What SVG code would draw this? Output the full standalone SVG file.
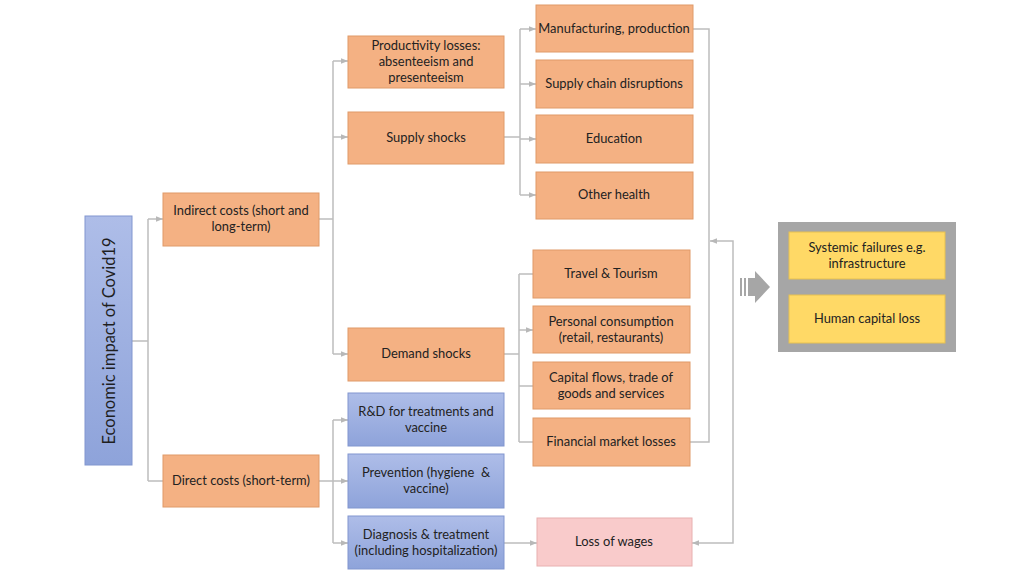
<svg xmlns="http://www.w3.org/2000/svg" width="1024" height="576" viewBox="0 0 1024 576">
<defs>
<linearGradient id="gBlue" x1="0" y1="0" x2="0" y2="1">
<stop offset="0" stop-color="#aebde8"/>
<stop offset="1" stop-color="#8ea3da"/>
</linearGradient>
<marker id="ah" viewBox="0 0 10 10" refX="10" refY="5" markerWidth="7" markerHeight="7" markerUnits="userSpaceOnUse" orient="auto-start-reverse">
<path d="M0,1 L10,5 L0,9 z" fill="#b8b8b8"/>
</marker>
<style>
.o{fill:#f4b183;stroke:#e09a68;stroke-width:1}
.b{fill:url(#gBlue);stroke:#8196cf;stroke-width:1}
.p{fill:#f9cbcb;stroke:#e8b0b0;stroke-width:1}
.y{fill:#ffd966;stroke:#e6c050;stroke-width:1}
.t{font-family:Lato,"Liberation Sans",sans-serif;font-size:12.9px;fill:#222222;text-anchor:middle}
.c{fill:none;stroke:#bdbdbd;stroke-width:1.5}
.ca{fill:none;stroke:#bdbdbd;stroke-width:1.5;marker-end:url(#ah)}
</style>
</defs>
<rect width="1024" height="576" fill="#ffffff"/>

<g id="connectors">
<path class="c" d="M132,341 H148"/>
<path class="c" d="M148,219 V481"/>
<path class="ca" d="M148,219 H163"/>
<path class="c" d="M148,481 H163"/>
<path class="c" d="M319,219 H333"/>
<path class="c" d="M333,61 V354"/>
<path class="ca" d="M333,61 H348"/>
<path class="ca" d="M333,137 H348"/>
<path class="ca" d="M333,354 H348"/>
<path class="c" d="M319,481 H333"/>
<path class="c" d="M333,420 V543"/>
<path class="ca" d="M333,420 H348"/>
<path class="ca" d="M333,481 H348"/>
<path class="ca" d="M333,543 H348"/>
<path class="c" d="M504,137 H520"/>
<path class="c" d="M520,29 V195"/>
<path class="ca" d="M520,29 H536"/>
<path class="ca" d="M520,84 H536"/>
<path class="ca" d="M520,139 H536"/>
<path class="ca" d="M520,195 H536"/>
<path class="c" d="M504,354 H519"/>
<path class="c" d="M519,274 V442"/>
<path class="c" d="M519,274 H533"/>
<path class="ca" d="M519,330 H533"/>
<path class="c" d="M519,386 H533"/>
<path class="c" d="M519,442 H533"/>
<path class="c" d="M693,29 H709 V442 H690"/>
<path class="ca" d="M504,543 H537"/>
<path class="c" d="M710,241 H733 V543 H692" style="marker-start:url(#ah);marker-end:url(#ah)"/>
</g>

<g id="n-main">
<rect x="85" y="216" width="47" height="249" fill="url(#gBlue)" stroke="#8196cf"/>
<text transform="translate(115,341) rotate(-90)" style="font-family:Lato,'Liberation Sans',sans-serif;font-size:16.5px;fill:#1f1f1f;text-anchor:middle">Economic impact of Covid19</text>
</g>
<g id="n-indirect"><rect class="o" x="163" y="193" width="156" height="53"/><text class="t" x="241" y="215">Indirect costs (short and</text><text class="t" x="241" y="231">long-term)</text></g>
<g id="n-direct"><rect class="o" x="163" y="455" width="156" height="52"/><text class="t" x="241" y="485">Direct costs (short-term)</text></g>

<g id="n-productivity"><rect class="o" x="348" y="36" width="156" height="52"/><text class="t" x="426" y="50">Productivity losses:</text><text class="t" x="426" y="66">absenteeism and</text><text class="t" x="426" y="82">presenteeism</text></g>
<g id="n-supply"><rect class="o" x="348" y="112" width="156" height="52"/><text class="t" x="426" y="142">Supply shocks</text></g>
<g id="n-demand"><rect class="o" x="348" y="328" width="156" height="53"/><text class="t" x="426" y="358">Demand shocks</text></g>
<g id="n-rd"><rect class="b" x="348" y="393" width="156" height="53"/><text class="t" x="426" y="416">R&amp;D for treatments and</text><text class="t" x="426" y="432">vaccine</text></g>
<g id="n-prevention"><rect class="b" x="348" y="454" width="156" height="54"/><text class="t" x="426" y="477">Prevention (hygiene&#160; &amp;</text><text class="t" x="426" y="493">vaccine)</text></g>
<g id="n-diagnosis"><rect class="b" x="348" y="516" width="156" height="53"/><text class="t" x="426" y="539">Diagnosis &amp; treatment</text><text class="t" x="426" y="555">(including hospitalization)</text></g>

<g id="n-manufacturing"><rect class="o" x="536" y="5" width="157" height="47"/><text class="t" x="614" y="33">Manufacturing, production</text></g>
<g id="n-supplychain"><rect class="o" x="536" y="60" width="157" height="48"/><text class="t" x="614" y="88">Supply chain disruptions</text></g>
<g id="n-education"><rect class="o" x="536" y="115" width="157" height="48"/><text class="t" x="614" y="143">Education</text></g>
<g id="n-otherhealth"><rect class="o" x="536" y="172" width="157" height="47"/><text class="t" x="614" y="199">Other health</text></g>

<g id="n-travel"><rect class="o" x="533" y="250" width="157" height="48"/><text class="t" x="611" y="278">Travel &amp; Tourism</text></g>
<g id="n-personal"><rect class="o" x="533" y="306" width="157" height="47"/><text class="t" x="611" y="326">Personal consumption</text><text class="t" x="611" y="342">(retail, restaurants)</text></g>
<g id="n-capital"><rect class="o" x="533" y="362" width="157" height="47"/><text class="t" x="611" y="382">Capital flows, trade of</text><text class="t" x="611" y="398">goods and services</text></g>
<g id="n-financial"><rect class="o" x="533" y="418" width="157" height="48"/><text class="t" x="611" y="446">Financial market losses</text></g>

<g id="n-wages"><rect class="p" x="537" y="518" width="155" height="48"/><text class="t" x="614" y="546">Loss of wages</text></g>

<g id="n-bigarrow">
<rect x="740" y="278" width="2" height="18" fill="#a6a6a6"/>
<rect x="744" y="278" width="2" height="18" fill="#a6a6a6"/>
<rect x="748" y="278" width="7" height="18" fill="#a6a6a6"/>
<path d="M755,271 L770,287 L755,303 z" fill="#a6a6a6"/>
</g>

<g id="n-outcomes">
<rect x="778" y="222" width="178" height="130" fill="#a6a6a6"/>
<g id="n-systemic"><rect class="y" x="789" y="232" width="156" height="47"/><text class="t" x="867" y="252">Systemic failures e.g.</text><text class="t" x="867" y="268">infrastructure</text></g>
<g id="n-humancapital"><rect class="y" x="789" y="295" width="156" height="48"/><text class="t" x="867" y="323">Human capital loss</text></g>
</g>
</svg>
